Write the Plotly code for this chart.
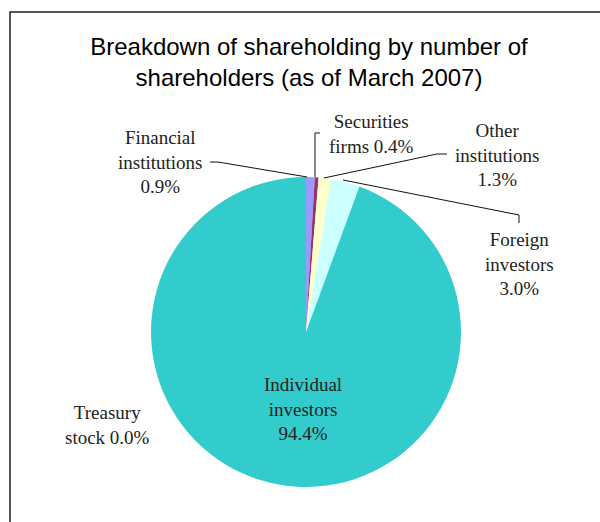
import plotly.graph_objects as go

# shareholder breakdown, March 2007
categories = ["Financial institutions", "Securities firms", "Other institutions",
              "Foreign investors", "Individual investors", "Treasury stock"]
shares = [0.9, 0.4, 1.3, 3.0, 94.4, 0.0]
colors = ["#9999FF", "#993366", "#FFFFCC", "#CCFFFF", "#33CCCC", "#FFFFFF"]

W, H = 600, 522

def px(x):
    return x / W

def py(y):
    return 1 - y / H

fig = go.Figure()
fig.add_trace(go.Pie(
    labels=categories,
    values=shares,
    marker=dict(colors=colors, line=dict(width=0)),
    sort=False,
    direction="clockwise",
    rotation=0,
    textinfo="none",
    hoverinfo="label+percent",
    showlegend=False,
    domain=dict(x=[px(151), px(461)], y=[py(487), py(177)]),
))

# label text, position (px)
label_font = dict(family="Liberation Serif", size=19, color="#222222")
labels = [
    ("Financial<br>institutions<br>%.1f%%" % shares[0], 160, 162),
    ("Securities<br>firms %.1f%%" % shares[1], 371, 134),
    ("Other<br>institutions<br>%.1f%%" % shares[2], 497, 155),
    ("Foreign<br>investors<br>%.1f%%" % shares[3], 519, 264),
    ("Individual<br>investors<br>%.1f%%" % shares[4], 303, 409),
    ("Treasury<br>stock %.1f%%" % shares[5], 107, 425),
]
for txt, x, y in labels:
    fig.add_annotation(x=px(x), y=py(y), xref="paper", yref="paper", text=txt,
                       showarrow=False, font=label_font, align="center",
                       xanchor="center", yanchor="middle")

# leader lines
leaders = [
    [(210, 162), (218, 162), (307, 177)],
    [(320, 133), (315, 133), (315, 177)],
    [(447, 154), (437, 154), (324, 178)],
    [(343, 180), (519, 215), (519, 223)],
]
for pts in leaders:
    path = "M " + " L ".join("%f,%f" % (px(a), py(b)) for a, b in pts)
    fig.add_shape(type="path", path=path, xref="paper", yref="paper",
                  line=dict(color="#111111", width=1))

# outer frame (runs off the right and bottom edge)
fig.add_shape(type="rect", xref="paper", yref="paper",
              x0=px(10), y0=py(530), x1=px(610), y1=py(12),
              line=dict(color="#222222", width=1.5))

fig.update_layout(
    width=W, height=H,
    margin=dict(l=0, r=0, t=0, b=0),
    paper_bgcolor="white",
    plot_bgcolor="white",
    title=dict(text="Breakdown of shareholding by number of<br>shareholders (as of March 2007)",
               x=px(309), xanchor="center", y=py(55), yanchor="middle",
               font=dict(family="Liberation Sans", size=24, color="black")),
)

# drop the page's default body margin so the figure sits at 0,0
fig.write_html("out.html", config={"displayModeBar": False},
               post_script="document.body.style.margin='0';")
